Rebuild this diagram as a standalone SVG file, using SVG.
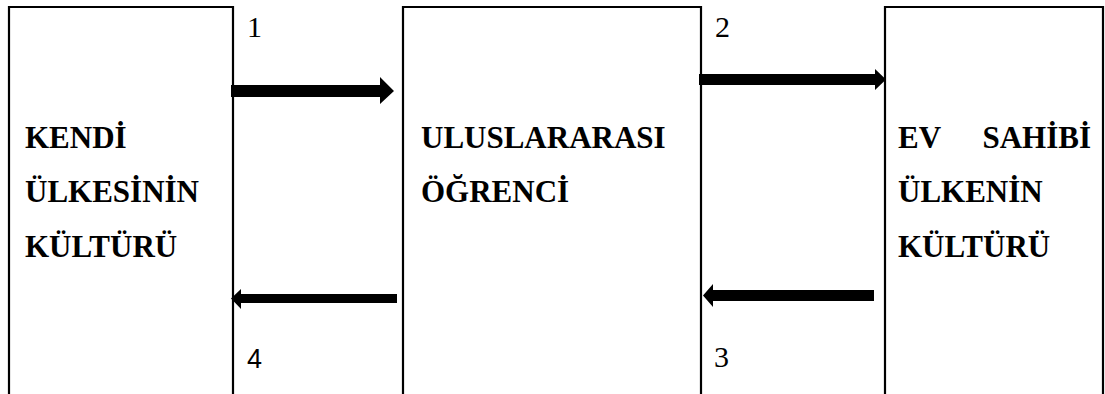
<svg xmlns="http://www.w3.org/2000/svg" width="1105" height="394" viewBox="0 0 1105 394">
<style>
.box{fill:none;stroke:#000;stroke-width:2.2}
.lbl{font-family:"Liberation Serif","Times New Roman",serif;font-weight:bold;font-size:31px;fill:#000}
.num{font-family:"Liberation Serif","Times New Roman",serif;font-size:30px;fill:#000}
.numS{font-family:"Liberation Sans",Arial,sans-serif;font-size:27px;fill:#000}
.arr{fill:#000}
</style>
<rect width="1105" height="394" fill="#fff"/>
<g id="node-kendi">
<path class="box" d="M9,396 V7 H233 V396"/>
<text class="lbl" x="25" y="148">KENDİ</text>
<text class="lbl" x="25" y="202">ÜLKESİNİN</text>
<text class="lbl" x="25" y="257">KÜLTÜRÜ</text>
</g>
<g id="node-ogrenci">
<path class="box" d="M403,396 V7 H701 V396"/>
<text class="lbl" x="421" y="148">ULUSLARARASI</text>
<text class="lbl" x="421" y="202">ÖĞRENCİ</text>
</g>
<g id="node-evsahibi">
<path class="box" d="M885,396 V7 H1103 V396"/>
<text class="lbl" x="898" y="148">EV</text>
<text class="lbl" x="1091" y="148" text-anchor="end">SAHİBİ</text>
<text class="lbl" x="898" y="202">ÜLKENİN</text>
<text class="lbl" x="898" y="257">KÜLTÜRÜ</text>
</g>
<g id="connectors">
<polygon class="arr" points="231,85 380,85 380,77 394,91 380,104 380,97 231,97"/>
<polygon class="arr" points="699,74 875,74 875,69 886,79.5 875,90 875,85 699,85"/>
<polygon class="arr" points="874,290 713,290 713,284 703,295.5 713,307 713,301 874,301"/>
<polygon class="arr" points="397,294 241,294 241,289 231,298.5 241,309 241,303 397,303"/>
<text class="num" x="247" y="37">1</text>
<text class="num" x="715" y="37">2</text>
<text class="num" x="714" y="367">3</text>
<text class="numS" x="247" y="368">4</text>
</g>
</svg>
